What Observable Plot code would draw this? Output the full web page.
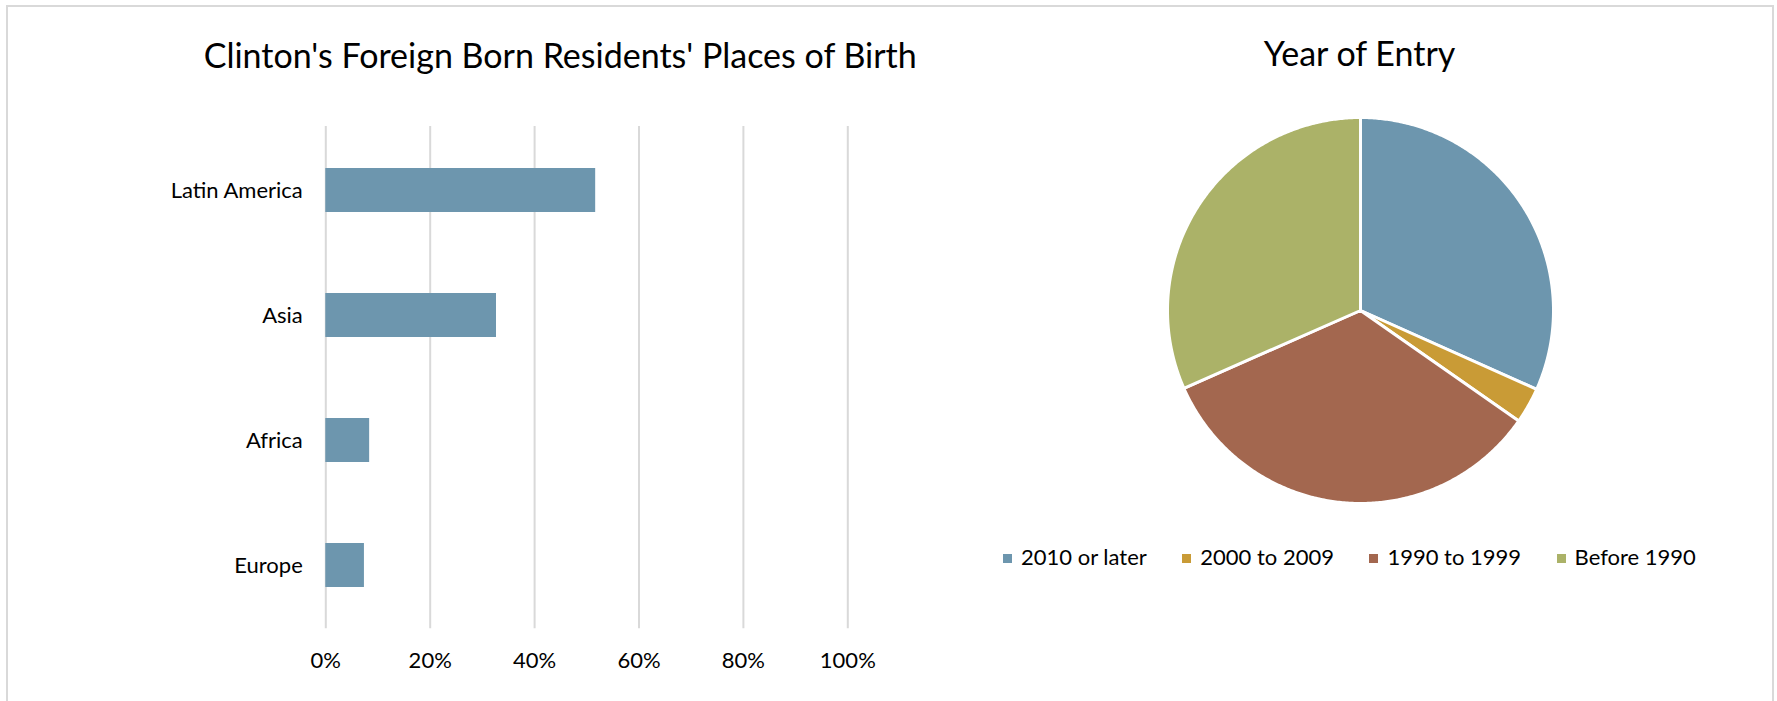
<!DOCTYPE html>
<html>
<head>
<meta charset="utf-8">
<script src="https://cdn.jsdelivr.net/npm/d3@7"></script>
<script src="https://cdn.jsdelivr.net/npm/@observablehq/plot@0.6"></script>
<style>
  html, body { margin: 0; padding: 0; background: #fff; }
  body { width: 1777px; height: 701px; position: relative; overflow: hidden; font-family: Lato, "Open Sans", sans-serif; color: #000; }
  #frame { position: absolute; left: 6px; top: 5px; width: 1768px; height: 720px; border: 2px solid #d9d9d9; box-sizing: border-box; }
  #bar { position: absolute; left: 0; top: 0; }
  #pie { position: absolute; left: 1161.5px; top: 112px; }
  #legend { position: absolute; left: 1003px; top: 546px; display: flex; align-items: center; font-size: 22px; line-height: 22px; white-space: nowrap; }
  #legend .item { display: flex; align-items: center; margin-right: 35.5px; }
  #legend .sw { width: 9px; height: 9px; margin-right: 9px; position: relative; top: 1.5px; }
  #pieTitle { position: absolute; left: 1159.5px; width: 400px; top: 36px; text-align: center; font-size: 34px; line-height: 34px; }
</style>
</head>
<body>
<div id="frame"></div>
<div id="bar"></div>
<div id="pieTitle"></div>
<div id="pie"></div>
<div id="legend"></div>
<script>
// ---- Data ----
const barTitle = "Clinton's Foreign Born Residents' Places of Birth";
const regions = ["Latin America", "Asia", "Africa", "Europe"];
const regionShares = [51.7, 32.7, 8.4, 7.4];
const xTickValues = [0, 20, 40, 60, 80, 100];

const pieTitle = "Year of Entry";
const entryLabels = ["2010 or later", "2000 to 2009", "1990 to 1999", "Before 1990"];
const entryShares = [31.7, 3.0, 33.7, 31.6];
const entryColors = ["#6d96ae", "#c99b36", "#a3674f", "#abb268"];
const barColor = "#6d96ae";

// ---- Bar chart ----
const barData = regions.map((r, i) => ({region: r, value: regionShares[i]}));
const barPlot = Plot.plot({
  width: 1110,
  height: 701,
  marginLeft: 325.3,
  marginRight: 262.7,
  marginTop: 126,
  marginBottom: 72.7,
  style: {fontFamily: "Lato, 'Open Sans', sans-serif", fontSize: "22px", color: "#000", background: "transparent", overflow: "visible"},
  x: {domain: [0, 100], label: null},
  y: {domain: regions, paddingInner: 0.646, paddingOuter: 0.323, label: null},
  marks: [
    Plot.gridX(xTickValues, {stroke: "#d9d9d9", strokeOpacity: 1, strokeWidth: 2}),
    Plot.barX(barData, {x: "value", y: "region", fill: barColor}),
    Plot.axisX(xTickValues, {tickSize: 0, tickPadding: 24, fontSize: 22, tickFormat: d => d + "%", label: null}),
    Plot.axisY({tickSize: 0, tickPadding: 23, fontSize: 22, label: null}),
    Plot.text([barTitle], {text: d => d, frameAnchor: "top", lineAnchor: "bottom", dy: -58.7, dx: -26.6, fontSize: 34, fill: "#000"})
  ]
});
document.getElementById("bar").appendChild(barPlot);

// ---- Pie chart ----
document.getElementById("pieTitle").textContent = pieTitle;
const arcs = d3.pie().sort(null).value(d => d)(entryShares);
const piePoints = [];
arcs.forEach((a, i) => {
  const label = entryLabels[i];
  piePoints.push({label, x: 0, y: 0});
  const n = Math.max(2, Math.ceil((a.endAngle - a.startAngle) / (Math.PI / 360)));
  for (let k = 0; k <= n; k++) {
    const t = a.startAngle + (a.endAngle - a.startAngle) * k / n;
    piePoints.push({label, x: Math.sin(t), y: Math.cos(t)});
  }
  piePoints.push({label, x: 0, y: 0});
});
const piePlot = Plot.plot({
  width: 396,
  height: 396,
  margin: 5,
  style: {background: "transparent", overflow: "visible"},
  x: {domain: [-1, 1], axis: null},
  y: {domain: [-1, 1], axis: null},
  color: {domain: entryLabels, range: entryColors},
  marks: [
    Plot.line(piePoints, {x: "x", y: "y", z: "label", fill: "label", stroke: "#fff", strokeWidth: 3, strokeLinejoin: "round"})
  ]
});
document.getElementById("pie").appendChild(piePlot);

// ---- Legend ----
const legend = document.getElementById("legend");
entryLabels.forEach((l, i) => {
  const item = document.createElement("div");
  item.className = "item";
  const sw = document.createElement("span");
  sw.className = "sw";
  sw.style.background = entryColors[i];
  const tx = document.createElement("span");
  tx.textContent = l;
  item.appendChild(sw);
  item.appendChild(tx);
  legend.appendChild(item);
});
</script>
</body>
</html>
